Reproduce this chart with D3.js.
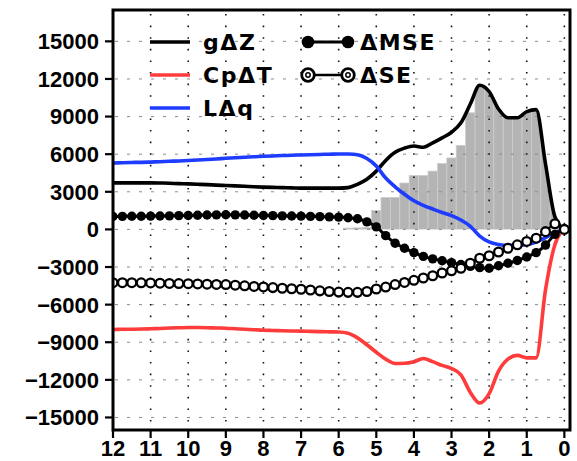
<!DOCTYPE html>
<html><head><meta charset="utf-8">
<script src="https://cdn.jsdelivr.net/npm/d3@7"></script>
<style>body{margin:0;background:#fff}svg{display:block}</style>
</head><body><svg id="c" width="577" height="461"></svg>
<script>
// ---- data (hours before, 15-min steps) ----
const hours = [12,11.75,11.5,11.25,11,10.75,10.5,10.25,10,9.75,9.5,9.25,9,8.75,8.5,8.25,8,7.75,7.5,7.25,7,6.75,6.5,6.25,6,5.75,5.5,5.25,5,4.75,4.5,4.25,4,3.75,3.5,3.25,3,2.75,2.5,2.25,2,1.75,1.5,1.25,1,0.75,0.5,0.25,0];
const gDZ  = [3710,3710,3710,3710,3710,3700,3680,3650,3630,3600,3570,3530,3500,3470,3440,3400,3370,3350,3330,3310,3290,3290,3290,3290,3290,3330,3600,4000,4650,5500,6150,6480,6650,6550,6900,7300,7750,8500,10000,11500,11000,9600,8900,8900,9400,9550,5200,1000,0];
const CpDT = [-7980,-7970,-7960,-7950,-7930,-7900,-7870,-7850,-7830,-7830,-7840,-7860,-7880,-7920,-7960,-8000,-8040,-8060,-8080,-8100,-8110,-8130,-8150,-8170,-8180,-8280,-8650,-9200,-9800,-10350,-10700,-10680,-10550,-10300,-10550,-10850,-11100,-11600,-13000,-13850,-13100,-11300,-10350,-10050,-10250,-10250,-4800,-1200,0];
const LDq  = [5300,5320,5340,5350,5370,5400,5430,5460,5490,5530,5580,5620,5670,5710,5750,5790,5830,5860,5890,5910,5940,5960,5980,6000,6020,6010,5950,5650,5050,4100,3400,2800,2280,1920,1630,1350,1100,750,250,-530,-1000,-1200,-1270,-1270,-1200,-1000,-650,-250,0];
const dMSE = [1030,1040,1050,1050,1060,1070,1080,1100,1110,1130,1150,1160,1170,1160,1150,1130,1110,1100,1080,1070,1060,1040,1020,1000,980,930,850,600,200,-500,-1100,-1500,-1850,-2150,-2350,-2500,-2650,-2800,-2950,-3050,-3100,-2900,-2700,-2480,-2200,-1850,-1250,-400,0];
const dSE  = [-4250,-4250,-4250,-4260,-4270,-4290,-4310,-4320,-4330,-4350,-4370,-4390,-4400,-4450,-4500,-4550,-4590,-4640,-4690,-4730,-4770,-4830,-4900,-4950,-5000,-5020,-5020,-4950,-4750,-4600,-4400,-4230,-4060,-3880,-3700,-3480,-3300,-3100,-2700,-2300,-2100,-1800,-1500,-1230,-960,-700,-180,450,0];
const barHours  = [5.75,5.5,5.25,5,4.75,4.5,4.25,4,3.75,3.5,3.25,3,2.75,2.5,2.25,2,1.75,1.5,1.25,1,0.75,0.5,0.25];
const barValues = [100,120,150,1500,2550,2550,3700,4300,4300,4650,5250,5700,6700,9300,12000,11500,10500,9500,9500,9800,9800,9800,9800];
const xTicks = [12,11,10,9,8,7,6,5,4,3,2,1,0];
const yTicks = [-15000,-12000,-9000,-6000,-3000,0,3000,6000,9000,12000,15000];
const lineLabels = ["g\u0394Z","Cp\u0394T","L\u0394q"];
const markerLabels = ["\u0394MSE","\u0394SE"];

// ---- layout ----
const L=113, R=570, T=10, B=430;
const svg = d3.select("#c");
const x = d3.scaleLinear().domain([12,-0.15]).range([L,R]);
const y = d3.scaleLinear().domain([-16000,17500]).range([B,T]);
const RED="#ff3c3c", BLUE="#1e3cff";

const pts = v => hours.map((h,i)=>[x(h),y(v[i])]).sort((a,b)=>a[0]-b[0]);
const lineGen = d3.line().curve(d3.curveMonotoneX);

const defs = svg.append("defs");
defs.append("clipPath").attr("id","plot").append("rect")
  .attr("x",L).attr("y",T).attr("width",R-L).attr("height",B-T);
const areaGen = d3.area().x(d=>d[0]).y0(y(0)).y1(d=>d[1]).curve(d3.curveMonotoneX);
defs.append("clipPath").attr("id","under").append("path").attr("d",areaGen(pts(gDZ)));

// bars
svg.append("g").attr("clip-path","url(#under)")
  .selectAll("rect").data(barHours.map((h,i)=>({h,v:barValues[i]}))).join("rect")
  .attr("x",d=>x(d.h+0.125)).attr("width",d=>x(d.h-0.125)-x(d.h+0.125))
  .attr("y",d=>y(Math.max(0,d.v))).attr("height",d=>Math.abs(y(0)-y(d.v)))
  .attr("fill","#b4b4b4").attr("stroke","#cdcdcd").attr("stroke-width",0.8);

// grid
const grid = svg.append("g");
grid.selectAll("line.h").data(yTicks).join("line").attr("class","h")
  .attr("x1",L+2).attr("x2",R-2).attr("y1",d=>y(d)).attr("y2",d=>y(d))
  .attr("stroke","#8a8a8a").attr("stroke-width",1).attr("stroke-dasharray","3,9");
grid.selectAll("line.v").data(xTicks.filter(d=>d<12)).join("line").attr("class","v")
  .attr("x1",d=>x(d)).attr("x2",d=>x(d)).attr("y1",T+4).attr("y2",B-2)
  .attr("stroke","#111").attr("stroke-width",1.6).attr("stroke-dasharray","1.6,10");

// series
const plot = svg.append("g").attr("clip-path","url(#plot)");
plot.append("path").attr("d",lineGen(pts(gDZ))).attr("fill","none").attr("stroke","#000").attr("stroke-width",3.6).attr("stroke-linejoin","round");
plot.append("path").attr("d",lineGen(pts(CpDT))).attr("fill","none").attr("stroke",RED).attr("stroke-width",3.6).attr("stroke-linejoin","round");
plot.append("path").attr("d",lineGen(pts(LDq))).attr("fill","none").attr("stroke",BLUE).attr("stroke-width",3.6).attr("stroke-linejoin","round");

plot.append("path").attr("d",lineGen(pts(dMSE))).attr("fill","none").attr("stroke","#000").attr("stroke-width",3);
plot.selectAll("circle.mse").data(hours.map((h,i)=>[h,dMSE[i]])).join("circle").attr("class","mse")
  .attr("cx",d=>x(d[0])).attr("cy",d=>y(d[1])).attr("r",4.7).attr("fill","#000");

plot.append("path").attr("d",lineGen(pts(dSE))).attr("fill","none").attr("stroke","#000").attr("stroke-width",2);
plot.selectAll("circle.se").data(hours.map((h,i)=>[h,dSE[i]])).join("circle").attr("class","se")
  .attr("cx",d=>x(d[0])).attr("cy",d=>y(d[1])).attr("r",4.4).attr("fill","#fff").attr("stroke","#000").attr("stroke-width",2.3);

// frame
svg.append("rect").attr("x",L).attr("y",T).attr("width",R-L).attr("height",B-T)
  .attr("fill","none").attr("stroke","#000").attr("stroke-width",3);

// axes
const fmt = d => d<0 ? "\u2212"+Math.abs(d) : String(d);
const axY = svg.append("g").attr("transform",`translate(${L},0)`);
axY.selectAll("line").data(yTicks).join("line")
  .attr("x1",-8).attr("x2",0).attr("y1",d=>y(d)).attr("y2",d=>y(d)).attr("stroke","#000").attr("stroke-width",2.2);
axY.selectAll("text").data(yTicks).join("text")
  .attr("x",-14).attr("y",d=>y(d)).attr("dy","0.36em").attr("text-anchor","end")
  .attr("font-family","'Liberation Sans',Arial,sans-serif").attr("font-weight","bold").attr("font-size",22)
  .text(fmt);
const axX = svg.append("g").attr("transform",`translate(0,${B})`);
axX.selectAll("line").data(xTicks).join("line")
  .attr("x1",d=>x(d)).attr("x2",d=>x(d)).attr("y1",0).attr("y2",8).attr("stroke","#000").attr("stroke-width",2.2);
axX.selectAll("text").data(xTicks).join("text")
  .attr("x",d=>x(d)).attr("y",26).attr("text-anchor","middle")
  .attr("font-family","'Liberation Sans',Arial,sans-serif").attr("font-weight","bold").attr("font-size",22)
  .text(d=>String(d));

// legend
const leg = svg.append("g");
const lcol = ["#000",RED,BLUE];
const legFont = "'DejaVu Sans',sans-serif";
lineLabels.forEach((t,i)=>{
  const ly = 42 + i*33;
  leg.append("line").attr("x1",150).attr("x2",190).attr("y1",ly).attr("y2",ly).attr("stroke",lcol[i]).attr("stroke-width",3.6);
  leg.append("text").attr("x",203).attr("y",ly).attr("dy","0.36em").attr("font-family",legFont)
    .attr("font-weight","bold").attr("font-size",22).attr("letter-spacing",1.6).text(t);
});
markerLabels.forEach((t,i)=>{
  const ly = 42 + i*33;
  leg.append("line").attr("x1",308).attr("x2",348).attr("y1",ly).attr("y2",ly).attr("stroke","#000").attr("stroke-width",i?2.4:3);
  [308,348].forEach(cx=>{
    if(i===0){
      leg.append("circle").attr("cx",cx).attr("cy",ly).attr("r",6.3).attr("fill","#000");
    } else {
      leg.append("circle").attr("cx",cx).attr("cy",ly).attr("r",6.3).attr("fill","#fff").attr("stroke","#000").attr("stroke-width",2.8);
      leg.append("circle").attr("cx",cx).attr("cy",ly).attr("r",2.2).attr("fill","none").attr("stroke","#000").attr("stroke-width",1.5);
    }
  });
  leg.append("text").attr("x",360).attr("y",ly).attr("dy","0.36em").attr("font-family",legFont)
    .attr("font-weight","bold").attr("font-size",22).attr("letter-spacing",1.6).text(t);
});
</script></body></html>
